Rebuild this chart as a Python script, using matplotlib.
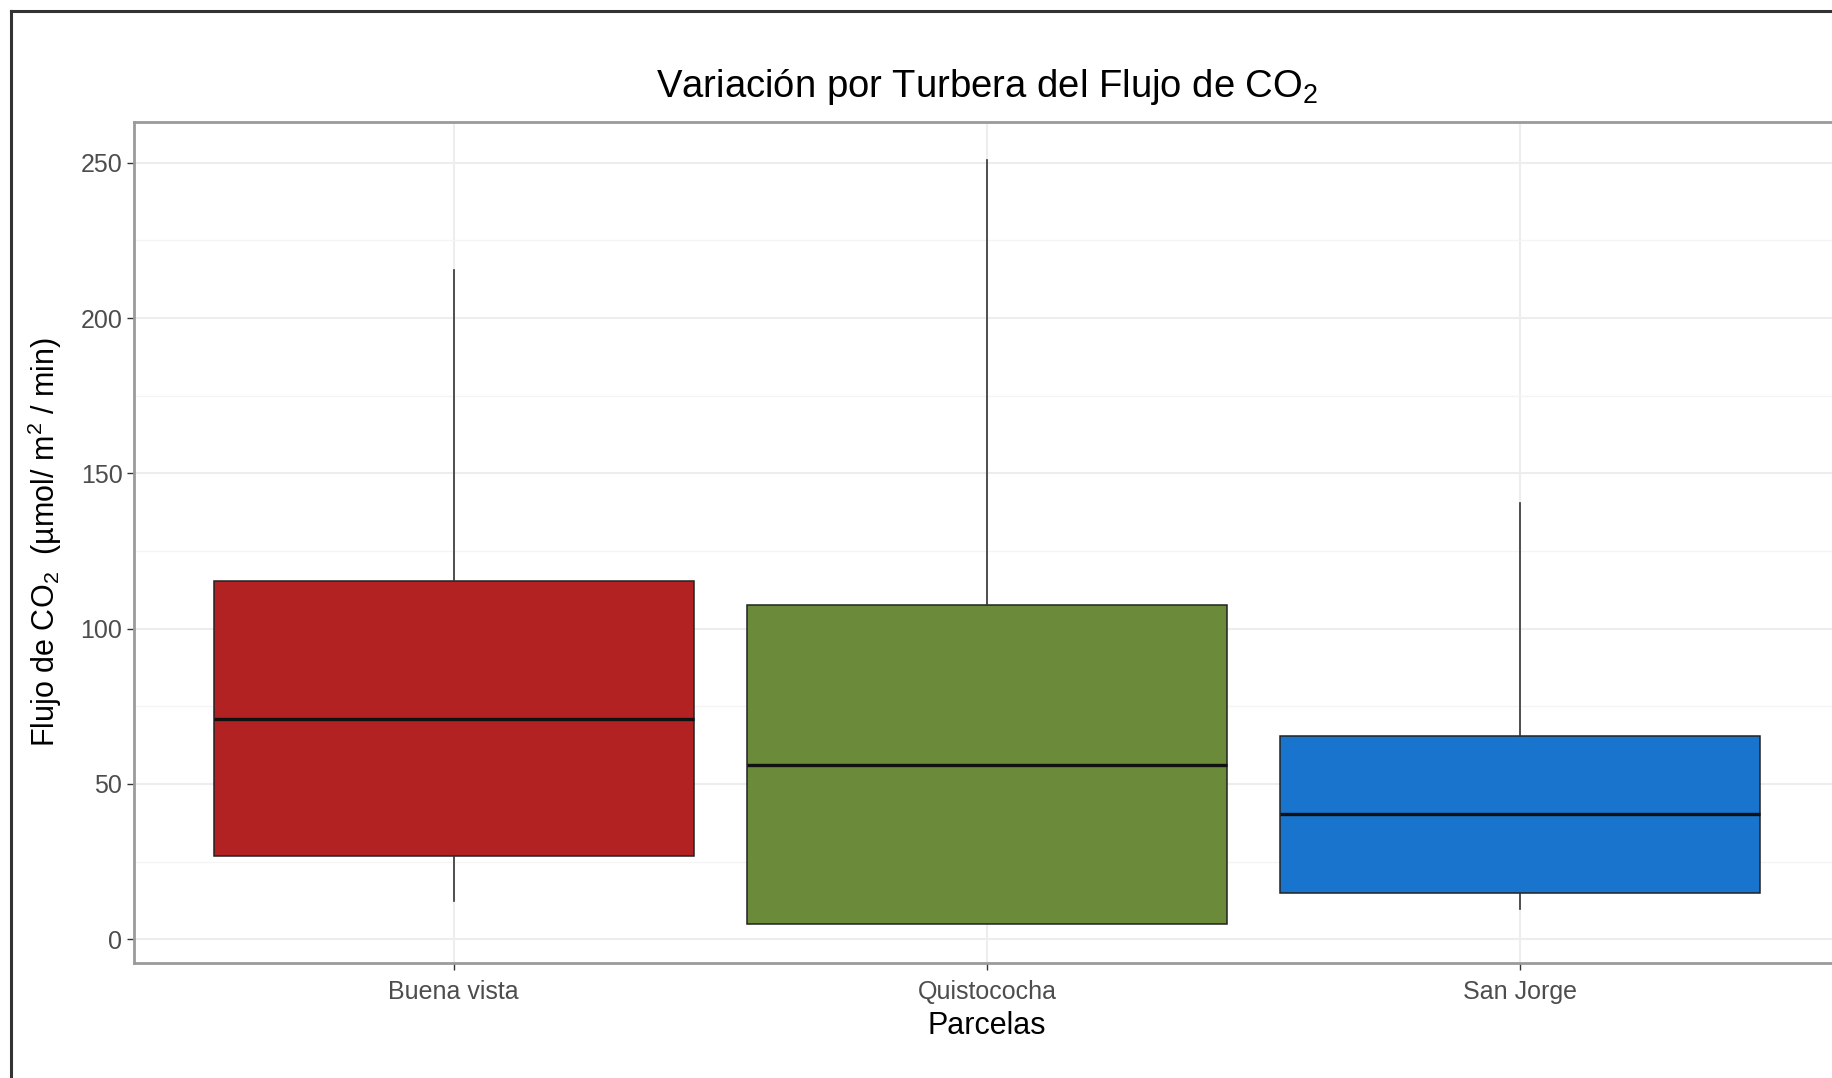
import matplotlib
matplotlib.use("Agg")
import matplotlib.pyplot as plt
from matplotlib.lines import Line2D
from matplotlib.ticker import MultipleLocator

# ---- data ----
categories = ["Buena vista", "Quistococha", "San Jorge"]
whisker_low = [12.4, 4.8, 9.8]
q1 = [26.7, 4.8, 15.0]
median = [71.0, 56.1, 40.3]
q3 = [115.3, 107.5, 65.5]
whisker_high = [215.5, 250.8, 140.3]
fill_colors = ["#B22222", "#6B8A3A", "#1874CD"]
yticks = [0, 50, 100, 150, 200, 250]

plt.rcParams["font.family"] = ["Liberation Sans", "DejaVu Sans"]
plt.rcParams["mathtext.fontset"] = "custom"
plt.rcParams["mathtext.rm"] = "Liberation Sans"
plt.rcParams["mathtext.it"] = "Liberation Sans:italic"
plt.rcParams["mathtext.bf"] = "Liberation Sans:bold"

W, H = 1832, 1078
fig = plt.figure(figsize=(W / 100, H / 100), dpi=100)
fig.patch.set_facecolor("white")

left, right = 133.5, 1840.5
top, bottom = 122.0, 962.5
ax = fig.add_axes([left / W, 1 - bottom / H, (right - left) / W, (bottom - top) / H])
ax.set_facecolor("white")

stats = []
for i, c in enumerate(categories):
    stats.append(dict(label=c, whislo=whisker_low[i], q1=q1[i], med=median[i],
                      q3=q3[i], whishi=whisker_high[i], fliers=[]))

positions = list(range(1, len(categories) + 1))
bp = ax.bxp(stats, positions=positions, widths=0.9, patch_artist=True,
            showcaps=False, showfliers=False,
            boxprops=dict(edgecolor="#222222", linewidth=1.1),
            whiskerprops=dict(color="#333333", linewidth=1.2),
            medianprops=dict(color="#111111", linewidth=2.4),
            zorder=3)
for patch, col in zip(bp["boxes"], fill_colors):
    patch.set_facecolor(col)

ax.set_xlim(0.4, 3.6)
ax.set_ylim(-7.47, 263.1)
ax.set_yticks(yticks)
ax.set_yticklabels([str(v) for v in yticks])
ax.yaxis.set_minor_locator(MultipleLocator(25))
ax.set_xticks(positions)
ax.set_xticklabels(categories)

ax.grid(True, which="major", color="#EDEDED", linewidth=1.5, zorder=0)
ax.grid(True, which="minor", axis="y", color="#F4F4F4", linewidth=0.9, zorder=0)
ax.set_axisbelow(True)

for s in ax.spines.values():
    s.set_color("#9A9A9A")
    s.set_linewidth(2.0)

ax.tick_params(axis="both", which="major", labelsize=18, labelcolor="#4D4D4D",
               color="#333333", length=5, width=1.0, pad=3)
ax.tick_params(axis="x", which="major", pad=7.5)
ax.tick_params(axis="y", which="minor", length=0)

ax.set_xlabel("Parcelas", fontsize=22, color="black", labelpad=5)
ax.set_ylabel("Flujo de CO$_2$  (µmol/ m$^2$ / min)", fontsize=22, color="black", labelpad=12)

fig.text((left + right) / 2 / W, 1 - 87 / H, "Variación por Turbera del Flujo de CO$_2$",
         ha="center", va="center", fontsize=27.5, color="black")

# outer frame (left and top edges visible)
fx, fy = 11 / W, 1 - 11 / H
fig.add_artist(Line2D([fx, fx], [0, fy], transform=fig.transFigure, color="#333333", linewidth=2.2))
fig.add_artist(Line2D([fx, 1], [fy, fy], transform=fig.transFigure, color="#333333", linewidth=2.2))

fig.savefig("out.png", dpi=100, facecolor="white")
